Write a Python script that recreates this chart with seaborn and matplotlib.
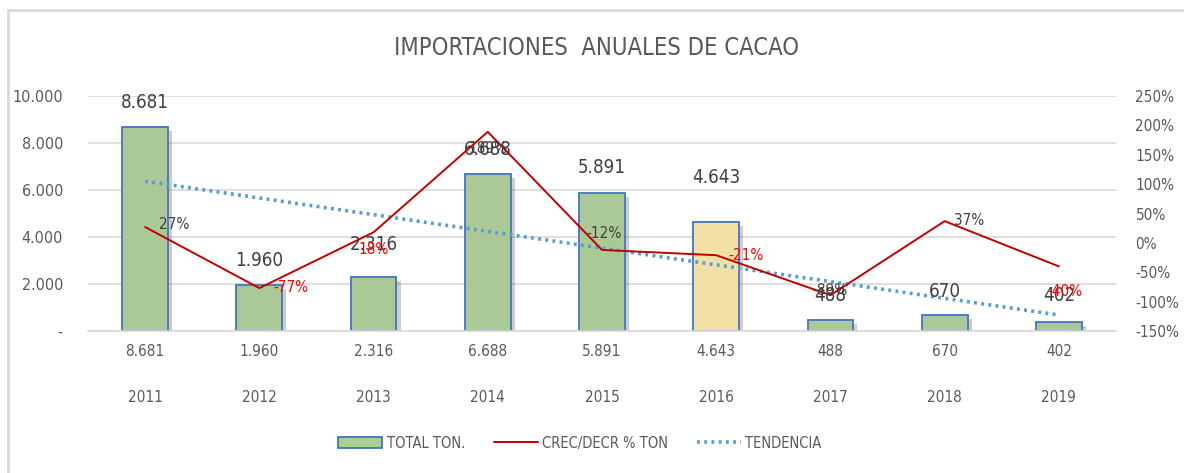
import numpy as np
import seaborn as sns
import matplotlib.pyplot as plt
import matplotlib.patheffects as pe
from matplotlib.patches import Patch, Rectangle
from matplotlib.lines import Line2D

# datos
anios = ["2011", "2012", "2013", "2014", "2015", "2016", "2017", "2018", "2019"]
total_ton = [8681, 1960, 2316, 6688, 5891, 4643, 488, 670, 402]
crec_pct = [27, -77, 18, 189, -12, -21, -89, 37, -40]

# estilos
verde = "#A9D18E"
amarillo = "#FFE699"
azul_borde = "#4472C4"
rojo = "#C00000"
gris = "#404040"
gris_claro = "#D9D9D9"
colores_barra = [amarillo if a == "2016" else verde for a in anios]
off_barra = [24, 24, 32, 24, 25, 44, 24, 24, 26]
off_pct = [(29, 3), (32, 1), (0, -17), (0, -17), (2, 16), (30, 0), (0, 5), (24, 1), (6, -25)]
col_pct = [gris, "#FF0000", "#FF0000", gris, gris, "#FF0000", gris, gris, "#FF0000"]

sns.set_theme(style="white")
plt.rcParams["font.family"] = ["DejaVu Sans"]
plt.rcParams["font.stretch"] = "condensed"
plt.rcParams["text.color"] = gris

fig = plt.figure(figsize=(11.84, 4.73), dpi=100)
fig.patches.append(Rectangle((8 / 1184, -0.1), 1.2, (473 - 10) / 473 + 0.1,
                             transform=fig.transFigure, fill=False,
                             edgecolor=gris_claro, linewidth=2))

ax = fig.add_axes([88 / 1184, 142 / 473, 1028 / 1184, 235 / 473])
x = np.arange(len(anios))

sns.barplot(x=anios, y=total_ton, hue=anios, palette=colores_barra, legend=False,
            width=0.4, edgecolor=azul_borde, linewidth=1.3, ax=ax, zorder=2)
for p in ax.patches:
    p.set_path_effects([pe.SimplePatchShadow(offset=(3, -3), alpha=0.25), pe.Normal()])

# linea de tendencia (ajuste lineal de seaborn)
sns.regplot(x=x, y=total_ton, scatter=False, ci=None, ax=ax, truncate=True,
            line_kws=dict(color="#5B9BD5", linewidth=2.6, linestyle=(0, (0.8, 1.2)),
                          zorder=3))

ax.set_xlim(-0.5, len(anios) - 0.5)
ax.set_ylim(0, 10000)
ax.set_yticks(range(0, 10001, 2000))
ax.set_yticklabels(["-" if v == 0 else f"{v:,}".replace(",", ".") for v in range(0, 10001, 2000)])
ax.yaxis.grid(True, color=gris_claro, linewidth=1.2)
ax.set_axisbelow(True)
ax.tick_params(axis="y", length=0, pad=18, labelsize=11.5, labelcolor="#595959")
ax.tick_params(axis="x", length=0, labelbottom=False)
ax.set_xlabel("")
for s in ["top", "left", "right"]:
    ax.spines[s].set_visible(False)
ax.spines["bottom"].set_color(gris_claro)
ax.spines["bottom"].set_linewidth(1.2)

# etiquetas de barras
for i, v in enumerate(total_ton):
    ax.annotate(f"{v:,}".replace(",", "."), (i, v), xytext=(0, off_barra[i]),
                textcoords="offset pixels", ha="center", va="center",
                fontsize=13.5, color=gris, zorder=5)
    # fila tipo tabla bajo el eje
    ax.annotate(f"{v:,}".replace(",", "."), (i, 0), xycoords=("data", "axes fraction"),
                xytext=(0, -21), textcoords="offset pixels", ha="center", va="center",
                fontsize=11, color="#595959")
    ax.annotate(anios[i], (i, 0), xycoords=("data", "axes fraction"),
                xytext=(0, -67), textcoords="offset pixels", ha="center", va="center",
                fontsize=11, color="#595959")

ax2 = ax.twinx()
sns.lineplot(x=x, y=crec_pct, color=rojo, linewidth=1.4, ax=ax2)
ax2.set_xlim(-0.5, len(anios) - 0.5)
ax2.set_ylim(-150, 250)
ax2.set_yticks(range(-150, 251, 50))
ax2.set_yticklabels([f"{v}%" for v in range(-150, 251, 50)])
ax2.tick_params(axis="y", length=0, pad=14, labelsize=11, labelcolor="#595959")
for s in ax2.spines.values():
    s.set_visible(False)
ax2.grid(False)

for i, v in enumerate(crec_pct):
    ax2.annotate(f"{v}%", (i, v), xytext=off_pct[i], textcoords="offset pixels",
                 ha="center", va="center", fontsize=11, color=col_pct[i], zorder=6)

fig.text(597 / 1184, 1 - 48 / 473, "IMPORTACIONES  ANUALES DE CACAO", ha="center",
         va="center", fontsize=17, color="#595959")

handles = [Patch(facecolor=verde, edgecolor=azul_borde, linewidth=1.3),
           Line2D([], [], color=rojo, linewidth=1.4),
           Line2D([], [], color="#5B9BD5", linewidth=2.6, linestyle=(0, (0.8, 1.2)))]
fig.legend(handles, ["TOTAL TON.", "CREC/DECR % TON", "TENDENCIA"], ncol=3,
           loc="center", bbox_to_anchor=(580 / 1184, 30 / 473), frameon=False,
           fontsize=10.5, handlelength=3.0, handletextpad=0.3, columnspacing=2.0,
           labelcolor="#595959")

fig.savefig("out.png", dpi=100)
